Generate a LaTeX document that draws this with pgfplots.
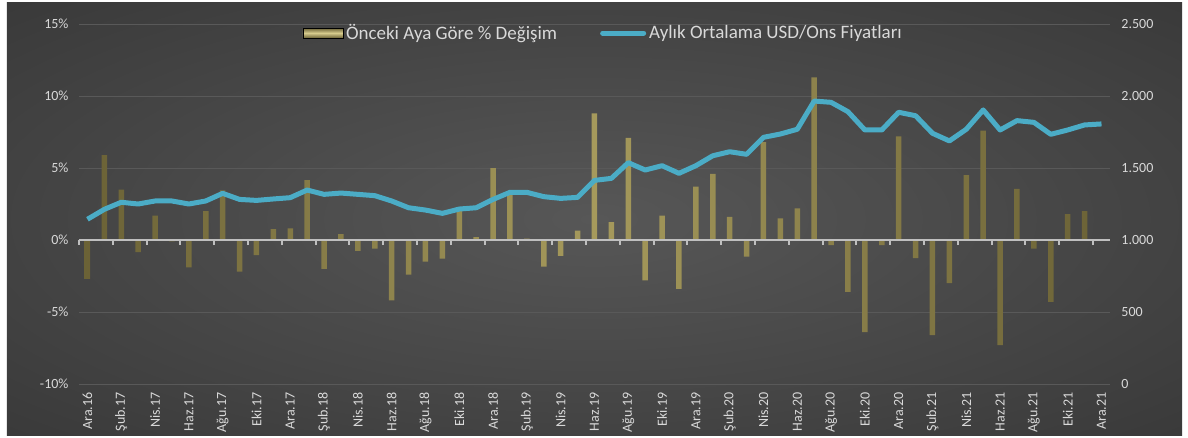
\documentclass[border=0pt]{standalone}
\usepackage{pgfplots}
\pgfplotsset{compat=1.18}
\usepackage{pgfplotstable}
\usepackage{fontspec}
\setmainfont{Carlito}

\definecolor{txt}{HTML}{D9D9D9}
\definecolor{gridc}{HTML}{595959}
\definecolor{zeroc}{HTML}{BFBFBF}
\definecolor{barmid}{HTML}{A69A5C}
\definecolor{baredge}{HTML}{6B6236}
\definecolor{legmid}{HTML}{D6CB8C}
\definecolor{goldline}{HTML}{4BACC6}
\definecolor{bgin}{HTML}{575757}
\definecolor{bgmid}{HTML}{363636}
\definecolor{bgout}{HTML}{262626}

\pgfdeclareradialshading{chartbg}{\pgfpoint{0bp}{0bp}}{%
  color(0bp)=(bgin); color(40bp)=(bgmid); color(72bp)=(bgout)}

% i: month index (0 = Ara.16), chg: % change, price: USD/oz monthly average
\pgfplotstableread{
i  chg    price
0  -2.7   1144
1   5.9   1213
2   3.5   1262
3  -0.85  1250
4   1.7   1271
5  -0.1   1271
6  -1.9   1250
7   2.0   1271
8   3.45  1324
9  -2.2   1282
10 -1.05  1275
11  0.75  1285
12  0.8   1294
13  4.15  1347
14 -2.0   1317
15  0.4   1326
16 -0.75  1317
17 -0.6   1308
18 -4.2   1271
19 -2.4   1224
20 -1.5   1208
21 -1.3   1185
22  2.0   1215
23  0.2   1224
24  5.0   1282
25  3.2   1331
26  0.1   1331
27 -1.85  1301
28 -1.1   1289
29  0.65  1296
30  8.8   1414
31  1.25  1428
32  7.1   1537
33 -2.8   1486
34  1.7   1516
35 -3.4   1463
36  3.7   1516
37  4.6   1585
38  1.6   1613
39 -1.15  1595
40  6.8   1713
41  1.5   1736
42  2.2   1769
43 11.3   1965
44 -0.35  1956
45 -3.6   1891
46 -6.4   1764
47 -0.35  1764
48  7.2   1887
49 -1.25  1863
50 -6.6   1741
51 -3.0   1688
52  4.5   1769
53  7.6   1903
54 -7.3   1764
55  3.55  1829
56 -0.6   1817
57 -4.3   1734
58  1.8   1764
59  2.0   1799
60  0.0   1806
}\gold

\pgfplotsset{
  base/.style={
    scale only axis, width=1031pt, height=360pt,
    at={(0pt,0pt)}, anchor=south west,
    xmin=-0.5, xmax=60.5,
    axis line style={draw=none},
    tick style={draw=none},
    ticklabel style={font=\fontsize{14}{16}\selectfont, text=txt},
  },
}

\begin{document}
\begin{tikzpicture}
% page size and chart background
\path[fill=white] (-79pt,-53pt) rectangle (1109pt,384pt);
\shade[shading=chartbg] (-72pt,-51pt) rectangle (1103pt,381pt);

% bars, left axis, month labels
\begin{axis}[base,
    ymin=-10, ymax=15,
    ytick={-10,-5,0,5,10,15},
    yticklabels={-10\%,-5\%,0\%,5\%,10\%,15\%},
    yticklabel style={xshift=-7pt},
    ymajorgrids, grid style={color=gridc, line width=1pt},
    xtick={0,2,...,60},
    xticklabels={Ara.16,Şub.17,Nis.17,Haz.17,Ağu.17,Eki.17,Ara.17,Şub.18,Nis.18,Haz.18,Ağu.18,Eki.18,Ara.18,Şub.19,Nis.19,Haz.19,Ağu.19,Eki.19,Ara.19,Şub.20,Nis.20,Haz.20,Ağu.20,Eki.20,Ara.20,Şub.21,Nis.21,Haz.21,Ağu.21,Eki.21,Ara.21},
    xticklabel style={rotate=90, anchor=east, xshift=-5pt},
]
\addplot[ybar, bar width=5.5pt, bar shift=0pt, draw=none,
    left color=baredge, right color=baredge, middle color=barmid]
    table[x=i, y=chg] {\gold};
\end{axis}

% zero line with tick marks
\begin{axis}[base,
    ymin=-10, ymax=15,
    axis x line=middle, axis y line=none,
    axis line style={draw=zeroc, line width=2pt, -},
    xtick={-0.5,1.5,...,59.5}, xticklabels={},
    tick style={draw=zeroc, line width=2pt},
    tick align=outside, major tick length=5pt, ytick=\empty,
]
\addplot[draw=none] coordinates {(0,0)};
\end{axis}

% price line, right axis, legend
\begin{axis}[base,
    ymin=0, ymax=2500,
    axis y line*=right, axis x line=none,
    ytick={0,500,1000,1500,2000,2500},
    yticklabels={0,500,1.000,1.500,2.000,2.500},
    yticklabel style={xshift=8pt},
    legend columns=2,
    legend style={at={(0.509,0.975)}, anchor=center, draw=none, fill=none,
      font=\fontsize{19}{22}\selectfont, text=txt,
      /tikz/every even column/.append style={column sep=40pt},
      nodes={inner xsep=3pt}},
]
\addlegendimage{legend image code/.code={
    \shade[top color=baredge, bottom color=baredge, middle color=legmid]
      (0pt,-5pt) rectangle (40pt,5pt);}}
\addlegendentry{Önceki Aya Göre \% Değişim}
\addplot[color=goldline, line width=5pt, line join=round,
    legend image code/.code={\draw[color=goldline, line width=5pt, line cap=round]
      (2pt,0pt) -- (43pt,0pt);}]
    table[x=i, y=price] {\gold};
\addlegendentry{Aylık Ortalama USD/Ons Fiyatları}
\end{axis}
\end{tikzpicture}
\end{document}
